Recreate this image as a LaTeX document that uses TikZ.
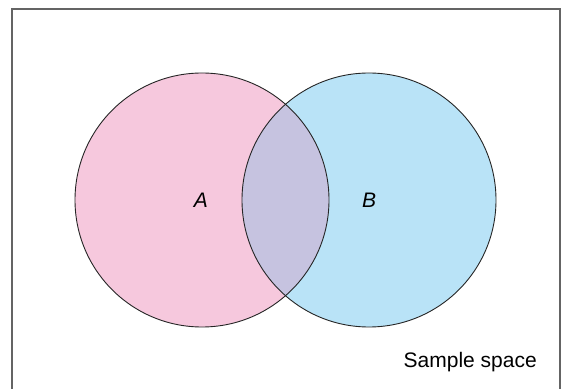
\documentclass[tikz,border=0pt]{standalone}
\usepackage{fontspec}
\setmainfont{Liberation Sans}
\definecolor{pinkA}{RGB}{246,200,221}
\definecolor{blueB}{RGB}{185,227,247}
\definecolor{both}{RGB}{198,195,224}
\definecolor{frame}{RGB}{100,100,100}
\tikzset{
  venn/.style={draw=black!85, line width=0.9pt},
  lbl/.style={font=\fontsize{21}{25}\selectfont\itshape, inner sep=0pt}
}
\begin{document}
\begin{tikzpicture}[x=1pt,y=1pt]
\useasboundingbox (0,0) rectangle (567,388);
\clip (0,0) rectangle (567,388);
\fill[white] (0,0) rectangle (567,388);
\draw[frame, line width=2pt] (12,-10) -- (12,379) -- (560,379) -- (560,-10);
\coordinate (ca) at (202,188);
\coordinate (cb) at (369,188);
\fill[pinkA] (ca) circle (127);
\fill[blueB] (cb) circle (127);
\begin{scope}
  \clip (ca) circle (127);
  \fill[both] (cb) circle (127);
\end{scope}
\draw[venn] (ca) circle (127);
\draw[venn] (cb) circle (127);
\node[lbl] (a) at (201,188) {A};
\node[lbl] (b) at (369,188) {B};
\node[font=\fontsize{21}{25}\selectfont, anchor=base east, inner sep=0pt] (s) at (537,21) {Sample space};
\end{tikzpicture}
\end{document}
